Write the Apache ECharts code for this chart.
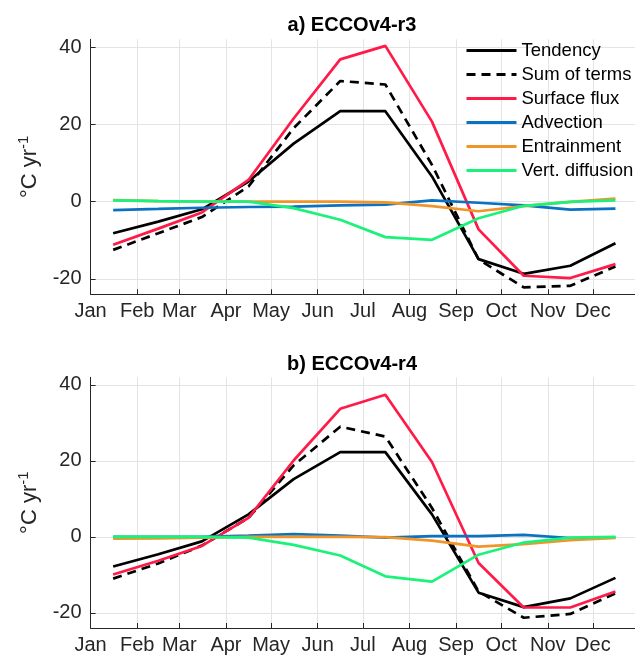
<!DOCTYPE html>
<html>
<head>
<meta charset="utf-8">
<script src="https://cdn.jsdelivr.net/npm/echarts@6/dist/echarts.min.js"></script>
<style>
html,body{margin:0;padding:0;background:#fff;}
#chart{width:635px;height:655px;}
</style>
</head>
<body>
<div id="chart"></div>
<script>
// ---- Data ----
const monthLabels = ['Jan','Feb','Mar','Apr','May','Jun','Jul','Aug','Sep','Oct','Nov','Dec'];
const monthStartDays = [0,31,59,90,120,151,181,212,243,273,304,334];
const midMonthDays = [15,45,74,105,135,166,196,227,258,288,319,349];
const yTicks = [-20,0,20,40];
const seriesNames = ['Tendency','Sum of terms','Surface flux','Advection','Entrainment','Vert. diffusion'];

// a) ECCOv4-r3
const r3Tendency   = [-8.2,-5.2,-2.0, 5.2,15.0,23.4,23.4, 6.5,-14.9,-18.7,-16.6,-10.8];
const r3SumTerms   = [-12.5,-8.2,-4.0, 3.9,19.0,31.2,30.3, 9.5,-15.0,-22.2,-21.8,-16.8];
const r3Surface    = [-11.2,-7.0,-2.8, 5.6,21.5,36.8,40.3,20.7,-7.2,-19.2,-19.8,-16.2];
const r3Advection  = [-2.2,-1.9,-1.6,-1.4,-1.3,-1.0,-0.8, 0.3,-0.3,-1.0,-2.1,-1.8];
const r3Entrain    = [0.4, 0.1, 0.0, 0.0, 0.0, 0.0,-0.2,-1.2,-2.5,-1.2,-0.1, 0.8];
const r3VertDiff   = [0.3, 0.1, 0.0, 0.0,-1.7,-4.7,-9.2,-9.9,-4.3,-1.1,-0.1, 0.3];

// b) ECCOv4-r4
const r4Tendency   = [-7.8,-4.6,-1.2, 5.9,15.2,22.3,22.3, 5.9,-14.7,-18.5,-16.2,-10.8];
const r4SumTerms   = [-11.0,-7.0,-2.3, 5.0,18.8,29.0,26.4, 7.6,-14.4,-21.3,-20.3,-14.9];
const r4Surface    = [-9.9,-6.3,-2.4, 5.0,20.1,33.7,37.4,19.7,-6.9,-18.6,-18.6,-14.4];
const r4Advection  = [0.0, 0.0, 0.0, 0.3, 0.7, 0.3,-0.2, 0.2, 0.2, 0.5,-0.3,-0.2];
const r4Entrain    = [-0.5,-0.4,-0.2, 0.0, 0.0, 0.0,-0.1,-1.0,-2.6,-1.9,-0.9,-0.3];
const r4VertDiff   = [0.0, 0.0, 0.0,-0.2,-2.1,-4.9,-10.4,-11.8,-4.7,-1.5,-0.2, 0.0];

// ---- Styles ----
const colors = ['#000000','#000000','#FF1A48','#0A72C0','#F0952A','#1AF27A'];
const lineTypes = ['solid',[9,6],'solid','solid','solid','solid'];
const FONT = '"Liberation Sans", Arial, Helvetica, sans-serif';
const TXT = '#262626';

const panels = [
  {title:'a) ECCOv4-r3', data:[r3Tendency,r3SumTerms,r3Surface,r3Advection,r3Entrain,r3VertDiff], top:39.3, titleTop:10},
  {title:'b) ECCOv4-r4', data:[r4Tendency,r4SumTerms,r4Surface,r4Advection,r4Entrain,r4VertDiff], top:377.3, titleTop:349}
];

const chart = echarts.init(document.getElementById('chart'), null, {renderer:'canvas'});

const grids = [], xAxes = [], yAxes = [], series = [], titles = [];
panels.forEach((p, pi) => {
  grids.push({left:90.6, right:0, top:p.top, height:255, containLabel:false});
  titles.push({text:p.title, left:347, top:p.titleTop, textAlign:'center',
    textStyle:{fontFamily:FONT, fontSize:20, fontWeight:'bold', color:'#000'}});
  xAxes.push({
    type:'value', gridIndex:pi, min:0, max:362,
    axisLine:{show:true, onZero:false, lineStyle:{color:TXT, width:1}},
    axisTick:{show:true, inside:true, length:5, customValues:monthStartDays, lineStyle:{color:TXT}},
    axisLabel:{show:true, margin:7, customValues:monthStartDays, fontFamily:FONT, fontSize:20, color:TXT,
      formatter:(v)=>{const i=monthStartDays.indexOf(Math.round(v)); return i>=0?monthLabels[i]:'';}},
    splitLine:{show:true, lineStyle:{color:'#e4e4e4', width:1}}
  });
  yAxes.push({
    type:'value', gridIndex:pi, min:-24, max:42,
    name:'{a|°C yr}{b|-1}', nameLocation:'middle', nameRotate:90, nameGap:48,
    nameTextStyle:{fontFamily:FONT, color:TXT, rich:{
      a:{fontFamily:FONT, fontSize:22, color:TXT, lineHeight:26},
      b:{fontFamily:FONT, fontSize:15, color:TXT, lineHeight:15, verticalAlign:'top'}
    }},
    axisLine:{show:true, lineStyle:{color:TXT, width:1}},
    axisTick:{show:true, inside:true, length:5, customValues:yTicks, lineStyle:{color:TXT}},
    axisLabel:{show:true, margin:9, customValues:yTicks, fontFamily:FONT, fontSize:20, color:TXT},
    splitLine:{show:true, lineStyle:{color:'#e4e4e4', width:1}}
  });
  p.data.forEach((arr, si) => {
    series.push({
      type:'line', name:seriesNames[si], xAxisIndex:pi, yAxisIndex:pi,
      data: arr.map((v,i)=>[midMonthDays[i], v]),
      symbol:'none', showSymbol:false, animation:false, silent:true,
      z: 2 + si,
      lineStyle:{color:colors[si], width:2.7, type:lineTypes[si]},
      itemStyle:{color:colors[si]}
    });
  });
});

chart.setOption({
  animation:false,
  backgroundColor:'#fff',
  title:titles,
  grid:grids,
  xAxis:xAxes,
  yAxis:yAxes,
  legend:{
    show:true, orient:'vertical', left:460, top:36,
    itemWidth:50, itemHeight:17, itemGap:5,
    data:seriesNames,
    itemStyle:{opacity:0},
    lineStyle:{width:3},
    textStyle:{fontFamily:FONT, fontSize:18.5, color:'#000', padding:[0,0,0,0]},
    selectedMode:false
  },
  series:series
});
</script>
</body>
</html>
